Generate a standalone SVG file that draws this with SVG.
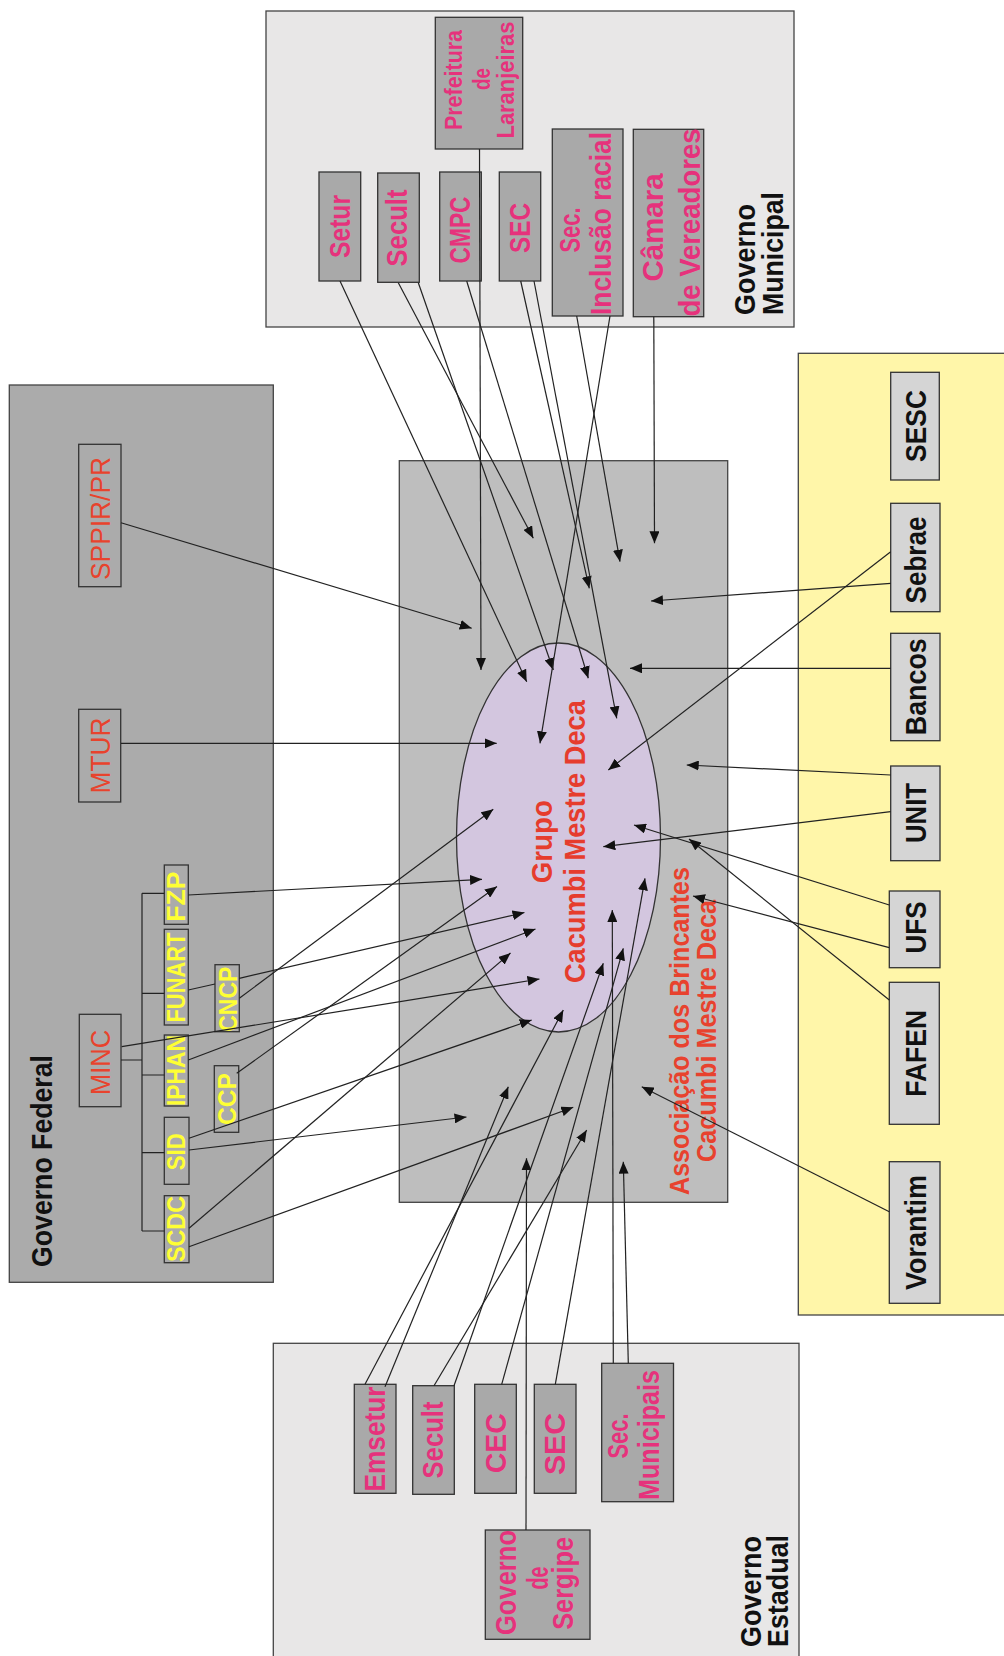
<svg xmlns="http://www.w3.org/2000/svg" width="1004" height="1656" viewBox="0 0 1004 1656">
<style>
rect,ellipse{stroke:#444;stroke-width:1.3}
.bg{fill:#fff;stroke:none}
.muni{fill:#e8e7e7}
.fed{fill:#ababab}
.assoc{fill:#bebebe}
.priv{fill:#fff6a9}
.nb{fill:#a9a9a9;stroke:#333}
.fb{fill:#ababab;stroke:#333}
.pb{fill:#d5d5d5;stroke:#333}
.ell{fill:#d3c6df;stroke:#333}
text{font-family:"Liberation Sans",Arial,Helvetica,sans-serif;text-anchor:middle}
.pk{font-weight:bold;fill:#e6327c;font-size:29px}
.pk2{font-weight:bold;fill:#e6327c;font-size:23px}
.yl{font-weight:bold;fill:#ffff33;font-size:25px}
.rd{fill:#e8432d;font-size:28px}
.rb{font-weight:bold;fill:#e63c2d;font-size:29px}
.rb2{font-weight:bold;fill:#e8422e;font-size:27px}
.bk{font-weight:bold;fill:#111;font-size:29px}
.gv{font-weight:bold;fill:#111;font-size:29px;text-anchor:start}
#connectors line,#connectors path{stroke:#222;stroke-width:1.2;fill:none}
.a{marker-end:url(#ah)}
</style>
<defs>
<marker id="ah" viewBox="0 0 12 10" refX="12" refY="5" markerWidth="12" markerHeight="10" markerUnits="userSpaceOnUse" orient="auto"><path d="M0,0 L12,5 L0,10 z" fill="#111"/></marker>
</defs>
<rect class="bg" x="0" y="0" width="1004" height="1656"/>

<!-- containers -->
<g id="governo-municipal">
<rect class="muni" x="266" y="11" width="528" height="316"/>
<text class="gv" lengthAdjust="spacingAndGlyphs" textLength="111" transform="translate(755,315) rotate(-90)">Governo</text>
<text class="gv" lengthAdjust="spacingAndGlyphs" textLength="123" transform="translate(783,315) rotate(-90)">Municipal</text>
</g>
<g id="governo-federal">
<rect class="fed" x="9.3" y="385" width="264" height="897.3"/>
<text class="gv" lengthAdjust="spacingAndGlyphs" textLength="212" transform="translate(51.5,1267) rotate(-90)">Governo Federal</text>
</g>
<g id="governo-estadual">
<rect class="muni" x="273.3" y="1343.3" width="525.7" height="330"/>
<text class="gv" lengthAdjust="spacingAndGlyphs" textLength="111" transform="translate(761,1647) rotate(-90)">Governo</text>
<text class="gv" lengthAdjust="spacingAndGlyphs" textLength="112" transform="translate(788,1647) rotate(-90)">Estadual</text>
</g>
<g id="iniciativa-privada">
<rect class="priv" x="798.3" y="353.3" width="220" height="961.7"/>
</g>
<g id="associacao">
<rect class="assoc" x="399.3" y="460.7" width="328.4" height="741.6"/>
<text class="rb2" lengthAdjust="spacingAndGlyphs" textLength="328" transform="translate(689,1031) rotate(-90)">Associação dos Brincantes</text>
<text class="rb2" lengthAdjust="spacingAndGlyphs" textLength="262" transform="translate(716,1031) rotate(-90)">Cacumbi Mestre Deca</text>
</g>
<g id="grupo">
<ellipse class="ell" cx="558.5" cy="837.5" rx="102" ry="194.5"/>
<text class="rb" lengthAdjust="spacingAndGlyphs" textLength="83" transform="translate(552,841.7) rotate(-90)">Grupo</text>
<text class="rb" lengthAdjust="spacingAndGlyphs" textLength="283" transform="translate(585,841.6) rotate(-90)">Cacumbi Mestre Deca</text>
</g>

<!-- municipal nodes -->
<g id="prefeitura"><rect class="nb" x="435.3" y="17.3" width="87.4" height="131.7"/>
<text class="pk2" lengthAdjust="spacingAndGlyphs" textLength="100" transform="translate(462,80) rotate(-90)">Prefeitura</text>
<text class="pk2" lengthAdjust="spacingAndGlyphs" textLength="22" transform="translate(490,79) rotate(-90)">de</text>
<text class="pk2" lengthAdjust="spacingAndGlyphs" textLength="117" transform="translate(514,80) rotate(-90)">Laranjeiras</text></g>
<g id="setur"><rect class="nb" x="319" y="172" width="41.7" height="109"/>
<text class="pk" lengthAdjust="spacingAndGlyphs" textLength="63" transform="translate(350,226.5) rotate(-90)">Setur</text></g>
<g id="secult-m"><rect class="nb" x="377.7" y="173" width="41.6" height="109.3"/>
<text class="pk" lengthAdjust="spacingAndGlyphs" textLength="77" transform="translate(407,228) rotate(-90)">Secult</text></g>
<g id="cmpc"><rect class="nb" x="439.7" y="172" width="41.6" height="109"/>
<text class="pk" lengthAdjust="spacingAndGlyphs" textLength="67" transform="translate(470,230) rotate(-90)">CMPC</text></g>
<g id="sec-m"><rect class="nb" x="499.3" y="172" width="41.4" height="109"/>
<text class="pk" lengthAdjust="spacingAndGlyphs" textLength="50" transform="translate(530,228) rotate(-90)">SEC</text></g>
<g id="sec-inclusao"><rect class="nb" x="552.3" y="129" width="70.7" height="187"/>
<text class="pk" lengthAdjust="spacingAndGlyphs" textLength="45" transform="translate(580,230) rotate(-90)">Sec.</text>
<text class="pk" lengthAdjust="spacingAndGlyphs" textLength="183" transform="translate(611,223.5) rotate(-90)">Inclusão racial</text></g>
<g id="camara"><rect class="nb" x="633.3" y="129.3" width="70.4" height="187.4"/>
<text class="pk" lengthAdjust="spacingAndGlyphs" textLength="108" transform="translate(663,227.5) rotate(-90)">Câmara</text>
<text class="pk" lengthAdjust="spacingAndGlyphs" textLength="188" transform="translate(700,222.5) rotate(-90)">de Vereadores</text></g>

<!-- federal nodes -->
<g id="sppir"><rect class="fb" x="78.7" y="444.3" width="42.3" height="142.4"/>
<text class="rd" lengthAdjust="spacingAndGlyphs" textLength="123" transform="translate(110,518.5) rotate(-90)">SPPIR/PR</text></g>
<g id="mtur"><rect class="fb" x="78.7" y="709.3" width="42" height="92.7"/>
<text class="rd" lengthAdjust="spacingAndGlyphs" textLength="76" transform="translate(110,755.5) rotate(-90)">MTUR</text></g>
<g id="minc"><rect class="fb" x="79.3" y="1014.3" width="41.7" height="92.4"/>
<text class="rd" lengthAdjust="spacingAndGlyphs" textLength="65" transform="translate(110,1062.5) rotate(-90)">MINC</text></g>
<g id="fzp"><rect class="fb" x="164.3" y="865" width="24" height="59.3"/>
<text class="yl" lengthAdjust="spacingAndGlyphs" textLength="50" transform="translate(185,896.7) rotate(-90)">FZP</text></g>
<g id="funart"><rect class="fb" x="164.3" y="929.3" width="24" height="95.7"/>
<text class="yl" lengthAdjust="spacingAndGlyphs" textLength="90" transform="translate(185,977.5) rotate(-90)">FUNART</text></g>
<g id="iphan"><rect class="fb" x="164.3" y="1035" width="24" height="71"/>
<text class="yl" lengthAdjust="spacingAndGlyphs" textLength="71" transform="translate(185,1070.5) rotate(-90)">IPHAN</text></g>
<g id="sid"><rect class="fb" x="164.3" y="1117.3" width="24.7" height="67"/>
<text class="yl" lengthAdjust="spacingAndGlyphs" textLength="37" transform="translate(185,1151.7) rotate(-90)">SID</text></g>
<g id="scdc"><rect class="fb" x="164.3" y="1195.7" width="24.7" height="67"/>
<text class="yl" lengthAdjust="spacingAndGlyphs" textLength="66" transform="translate(185,1229) rotate(-90)">SCDC</text></g>
<g id="cncp"><rect class="fb" x="215" y="964.7" width="24.3" height="67"/>
<text class="yl" lengthAdjust="spacingAndGlyphs" textLength="65" transform="translate(237,999.2) rotate(-90)">CNCP</text></g>
<g id="ccp"><rect class="fb" x="214.3" y="1065.7" width="24.4" height="66.6"/>
<text class="yl" lengthAdjust="spacingAndGlyphs" textLength="52" transform="translate(236,1099) rotate(-90)">CCP</text></g>

<!-- private nodes -->
<g id="sesc"><rect class="pb" x="890.7" y="372.3" width="48.6" height="107.7"/>
<text class="bk" lengthAdjust="spacingAndGlyphs" textLength="72" transform="translate(926,426) rotate(-90)">SESC</text></g>
<g id="sebrae"><rect class="pb" x="890.7" y="503.3" width="49.3" height="108.4"/>
<text class="bk" lengthAdjust="spacingAndGlyphs" textLength="87" transform="translate(926,560) rotate(-90)">Sebrae</text></g>
<g id="bancos"><rect class="pb" x="890.7" y="633.3" width="49.3" height="107.4"/>
<text class="bk" lengthAdjust="spacingAndGlyphs" textLength="97" transform="translate(926,686.7) rotate(-90)">Bancos</text></g>
<g id="unit"><rect class="pb" x="890.7" y="766" width="49.3" height="94.7"/>
<text class="bk" lengthAdjust="spacingAndGlyphs" textLength="60" transform="translate(926,813) rotate(-90)">UNIT</text></g>
<g id="ufs"><rect class="pb" x="889.3" y="891" width="50.7" height="76.7"/>
<text class="bk" lengthAdjust="spacingAndGlyphs" textLength="52" transform="translate(926,927.5) rotate(-90)">UFS</text></g>
<g id="fafen"><rect class="pb" x="889.3" y="982.3" width="50" height="142"/>
<text class="bk" lengthAdjust="spacingAndGlyphs" textLength="87" transform="translate(926,1053.3) rotate(-90)">FAFEN</text></g>
<g id="vorantim"><rect class="pb" x="889.3" y="1161.7" width="50.7" height="141.6"/>
<text class="bk" lengthAdjust="spacingAndGlyphs" textLength="115" transform="translate(926,1232.5) rotate(-90)">Vorantim</text></g>

<!-- estadual nodes -->
<g id="emsetur"><rect class="nb" x="354.3" y="1384.3" width="41.7" height="109"/>
<text class="pk" lengthAdjust="spacingAndGlyphs" textLength="105" transform="translate(385,1439) rotate(-90)">Emsetur</text></g>
<g id="secult-e"><rect class="nb" x="412.7" y="1385.7" width="41.6" height="108.6"/>
<text class="pk" lengthAdjust="spacingAndGlyphs" textLength="77" transform="translate(443,1440) rotate(-90)">Secult</text></g>
<g id="cec"><rect class="nb" x="474.7" y="1384.3" width="41.6" height="109"/>
<text class="pk" lengthAdjust="spacingAndGlyphs" textLength="60" transform="translate(506,1443.3) rotate(-90)">CEC</text></g>
<g id="sec-e"><rect class="nb" x="534.3" y="1384.3" width="41.7" height="109"/>
<text class="pk" lengthAdjust="spacingAndGlyphs" textLength="62" transform="translate(565,1444) rotate(-90)">SEC</text></g>
<g id="sec-municipais"><rect class="nb" x="601.7" y="1363.3" width="71.8" height="138.4"/>
<text class="pk" lengthAdjust="spacingAndGlyphs" textLength="45" transform="translate(628,1436) rotate(-90)">Sec.</text>
<text class="pk" lengthAdjust="spacingAndGlyphs" textLength="130" transform="translate(659,1435) rotate(-90)">Municipais</text></g>
<g id="governo-sergipe"><rect class="nb" x="485.3" y="1530" width="104.7" height="109.3"/>
<text class="pk" lengthAdjust="spacingAndGlyphs" textLength="105" transform="translate(516,1582.5) rotate(-90)">Governo</text>
<text class="pk" lengthAdjust="spacingAndGlyphs" textLength="23" transform="translate(548,1578) rotate(-90)">de</text>
<text class="pk" lengthAdjust="spacingAndGlyphs" textLength="93" transform="translate(573,1583.3) rotate(-90)">Sergipe</text></g>

<g id="connectors">
<!-- MINC tree -->
<path d="M121,1060 H142 M142,893.3 V1231 M142,893.3 H164.3 M142,993.3 H164.3 M142,1075 H164.3 M142,1152.7 H164.3 M142,1231 H164.3 M188.3,990 L215,984"/>
<!-- federal -->
<line class="a" x1="121" y1="522.7" x2="471.7" y2="628.3"/>
<line class="a" x1="121" y1="743.3" x2="496.7" y2="743.3"/>
<line class="a" x1="188.3" y1="895" x2="482" y2="879.3"/>
<line class="a" x1="239.3" y1="978.3" x2="524.5" y2="912.5"/>
<line class="a" x1="239.3" y1="998.3" x2="493.3" y2="809.3"/>
<line class="a" x1="121.7" y1="1046.7" x2="539.5" y2="979"/>
<line class="a" x1="188.3" y1="1060" x2="535.5" y2="929"/>
<line class="a" x1="236.7" y1="1073.3" x2="497" y2="886.5"/>
<line class="a" x1="189" y1="1138.3" x2="531.7" y2="1020"/>
<line class="a" x1="189" y1="1150" x2="466.5" y2="1117"/>
<line class="a" x1="189" y1="1228.3" x2="510.5" y2="953"/>
<line class="a" x1="189" y1="1246.7" x2="573.3" y2="1107.3"/>
<!-- municipal -->
<line class="a" x1="340" y1="281" x2="526.7" y2="681.7"/>
<line class="a" x1="398.3" y1="282.7" x2="533.3" y2="538.3"/>
<line class="a" x1="418.3" y1="282.7" x2="553.3" y2="670"/>
<line class="a" x1="466.7" y1="281" x2="588.3" y2="678.3"/>
<line class="a" x1="479.5" y1="149" x2="481" y2="670"/>
<line class="a" x1="520.7" y1="281" x2="589.3" y2="588.3"/>
<line class="a" x1="534" y1="281" x2="616.7" y2="718.3"/>
<line class="a" x1="576.7" y1="316" x2="620" y2="561.7"/>
<line class="a" x1="610" y1="316" x2="540" y2="743.3"/>
<line class="a" x1="653.8" y1="316.7" x2="654.5" y2="543.3"/>
<!-- private -->
<line class="a" x1="890.7" y1="551.7" x2="608.3" y2="770"/>
<line class="a" x1="890.7" y1="583.3" x2="651" y2="601"/>
<line class="a" x1="890.7" y1="668.3" x2="630" y2="668.3"/>
<line class="a" x1="890.7" y1="775" x2="686.7" y2="765"/>
<line class="a" x1="890.7" y1="811.7" x2="603.3" y2="846.7"/>
<line class="a" x1="889.3" y1="905" x2="634" y2="825"/>
<line class="a" x1="889.3" y1="947.7" x2="693" y2="896"/>
<line class="a" x1="889.3" y1="1000" x2="689" y2="839"/>
<line class="a" x1="889.3" y1="1211.7" x2="641.7" y2="1086.7"/>
<!-- estadual -->
<line class="a" x1="365" y1="1384.3" x2="563.3" y2="1010"/>
<line class="a" x1="385" y1="1386.7" x2="508.3" y2="1086.7"/>
<line class="a" x1="434" y1="1385.7" x2="586.7" y2="1130"/>
<line class="a" x1="454" y1="1385.7" x2="603.3" y2="963.3"/>
<line class="a" x1="501.7" y1="1384.3" x2="623.3" y2="948.3"/>
<line class="a" x1="555.3" y1="1384.3" x2="645" y2="878.3"/>
<line class="a" x1="526" y1="1530" x2="526.5" y2="1158.3"/>
<line class="a" x1="613.3" y1="1363.3" x2="612.3" y2="910"/>
<line class="a" x1="628.3" y1="1363.3" x2="623.3" y2="1161.7"/>
</g>
</svg>
